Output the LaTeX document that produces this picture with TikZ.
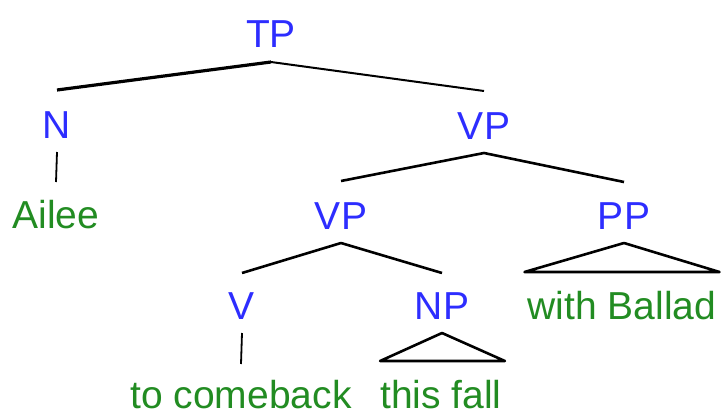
\documentclass[tikz,border=0pt]{standalone}
\usepackage{fontspec}
\setmainfont{Liberation Sans}
\begin{document}
\begin{tikzpicture}[x=1pt,y=-1pt,
  cat/.style={inner sep=0pt,anchor=base,text=catblue,font=\fontsize{39}{40}\selectfont},
  word/.style={inner sep=0pt,anchor=base,text=wordgreen,font=\fontsize{39}{40}\selectfont},
  branch/.style={draw=black,line width=2.6pt,line join=round},
  stem/.style={draw=black,line width=1.8pt}]
\definecolor{catblue}{RGB}{45,45,255}
\definecolor{wordgreen}{RGB}{34,140,34}
\useasboundingbox (0,0) rectangle (722,412);

% category labels
\node[cat] (tp)  at (271,48)  {TP};
\node[cat] (n)   at (57,138)  {N};
\node[cat] (vp)  at (484,139) {VP};
\node[cat] (vp2) at (341,229) {VP};
\node[cat] (pp)  at (624,229) {PP};
\node[cat] (v)   at (242,319) {V};
\node[cat] (np)  at (442,319) {NP};

% words
\node[word] (ailee)    at (56,228)  {Ailee};
\node[word] (ballad)   at (622,319) {with Ballad};
\node[word] (comeback) at (241,408) {to comeback};
\node[word] (fall)     at (441,408) {this fall};

% branches
\draw[branch,line width=3.2pt] ([yshift=-14pt]tp.base) -- ([yshift=48pt]n.base);
\draw[branch,line width=2pt] ([yshift=-14pt]tp.base) -- ([yshift=48pt]vp.base);
\draw[branch] ([yshift=48pt]vp2.base) -- ([yshift=-14pt]vp.base) -- ([yshift=47pt]pp.base);
\draw[branch] ([yshift=46pt]v.base) -- ([yshift=-14pt]vp2.base) -- ([yshift=46pt]np.base);

% unary stems
\draw[stem] ([yshift=-14pt]n.base) -- ([yshift=46pt]ailee.base);
\draw[stem] ([yshift=-14pt]v.base) -- ([yshift=44pt]comeback.base);

% triangles over phrases
\draw[branch] ([yshift=-14pt]np.base) -- ([shift={(0pt,47pt)}]fall.base west)
  -- ([shift={(3pt,47pt)}]fall.base east) -- cycle;
\draw[branch] ([yshift=-14pt]pp.base) -- ([shift={(-3pt,47pt)}]ballad.base west)
  -- ([shift={(3pt,47pt)}]ballad.base east) -- cycle;
\end{tikzpicture}
\end{document}
